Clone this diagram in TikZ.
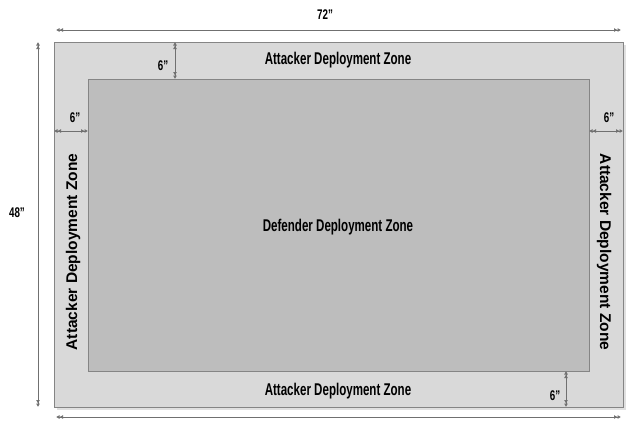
\documentclass[tikz,border=0pt]{standalone}
\usepackage{fontspec}
\setmainfont{Liberation Sans}
\usetikzlibrary{arrows.meta}
\definecolor{outerfill}{HTML}{D9D9D9}
\definecolor{innerfill}{HTML}{BDBDBD}
\definecolor{edgegrey}{HTML}{858585}
\definecolor{dimgrey}{HTML}{707070}
\tikzset{
  zone/.style={draw=edgegrey, line width=1.4pt},
  dimline/.style={draw=dimgrey, line width=0.7pt,
    {Latex[length=3.5pt,width=4pt]Latex[length=3.5pt,width=4pt]}-{Latex[length=3.5pt,width=4pt]Latex[length=3.5pt,width=4pt]}},
  narrow/.style={font=\bfseries\fontsize{17}{19}\selectfont, xscale=0.68, inner sep=0pt},
  sidelabel/.style={font=\bfseries\fontsize{15.5}{18}\selectfont, inner sep=0pt},
  dimlabel/.style={font=\bfseries\fontsize{14}{16}\selectfont, xscale=0.7, inner sep=0pt},
}
\begin{document}
\begin{tikzpicture}[x=1pt,y=-1pt]
\useasboundingbox (0,0) rectangle (636,421);
% shadow
\fill[black!12] (57,45) rectangle (626,410);
% zones
\node[zone, fill=outerfill, minimum width=569pt, minimum height=365pt, inner sep=0pt, anchor=north west] (outer) at (54,42) {};
\node[zone, fill=innerfill, minimum width=501pt, minimum height=292pt, inner sep=0pt, anchor=north west] (inner) at (88,79) {};
% texts
\node[narrow] (atop) at (338,60) {Attacker Deployment Zone};
\node[narrow] (abot) at (338,391) {Attacker Deployment Zone};
\node[narrow] (def) at (338,227) {Defender Deployment Zone};
\node[sidelabel, rotate=90] (aleft) at (73,252) {Attacker Deployment Zone};
\node[sidelabel, rotate=-90] (aright) at (604,252) {Attacker Deployment Zone};
% overall dimensions
\coordinate (t1) at (56,30); \coordinate (t2) at (621,30);
\draw[dimline] (t1) -- (t2);
\node[dimlabel] (w72) at (325,15) {72"};
\coordinate (b1) at (56,417); \coordinate (b2) at (621,417);
\draw[dimline] (b1) -- (b2);
\coordinate (l1) at (38,42); \coordinate (l2) at (38,407);
\draw[dimline] (l1) -- (l2);
\node[dimlabel] (h48) at (17,213) {48"};
% 6 inch dimensions
\coordinate (s1a) at (175,42); \coordinate (s1b) at (175,79);
\draw[dimline] (s1a) -- (s1b);
\node[dimlabel] (s1) at (163,66) {6"};
\coordinate (s2a) at (54,131); \coordinate (s2b) at (88,131);
\draw[dimline] (s2a) -- (s2b);
\node[dimlabel] (s2) at (75,118) {6"};
\coordinate (s3a) at (589,131); \coordinate (s3b) at (623,131);
\draw[dimline] (s3a) -- (s3b);
\node[dimlabel] (s3) at (609,118) {6"};
\coordinate (s4a) at (566,371); \coordinate (s4b) at (566,407);
\draw[dimline] (s4a) -- (s4b);
\node[dimlabel] (s4) at (555,396) {6"};
\end{tikzpicture}
\end{document}
